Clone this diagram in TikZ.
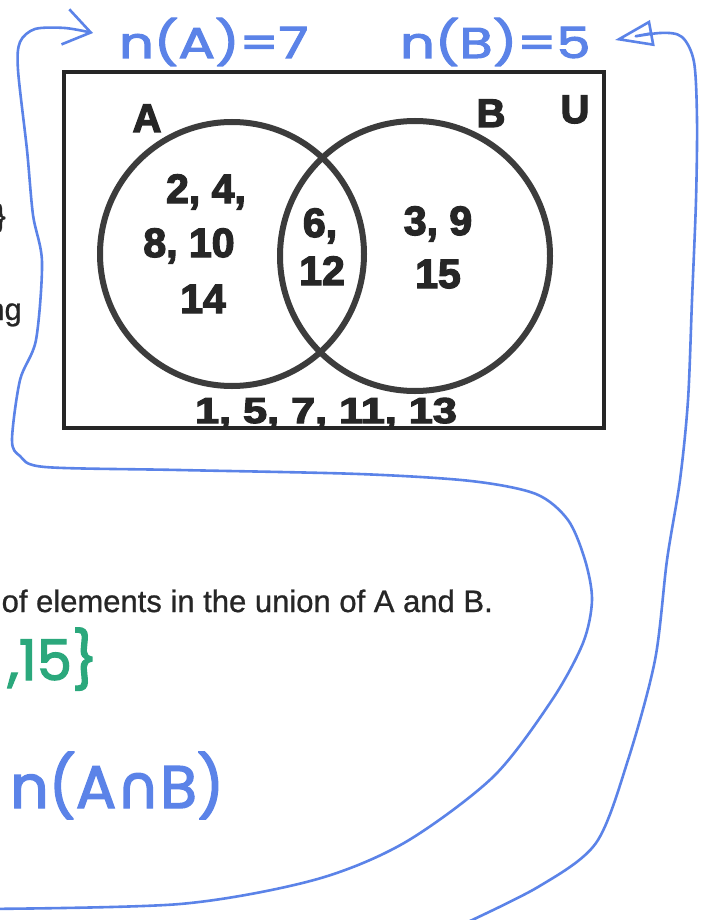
\documentclass[tikz,border=0pt]{standalone}
\usepackage{fontspec}
\setmainfont{Liberation Sans}
\newfontfamily\heavyfont{Liberation Sans}[UprightFont={* Bold}, FakeBold=3.2]
\newfontfamily\printfont{Liberation Sans}[FakeBold=0.8]
\newfontfamily\handfont{Poppins}[FakeBold=2.4]
\newfontfamily\symfont{DejaVu Sans}[FakeBold=2.4]
\usetikzlibrary{arrows.meta, positioning}
\definecolor{ink}{HTML}{262626}
\definecolor{pen}{HTML}{5B83E8}
\definecolor{marker}{HTML}{2BA87C}
\tikzstyle{venn} = [circle, draw=ink!90, line width=6pt, inner sep=0pt]
\tikzstyle{num} = [font=\heavyfont\fontsize{41}{41}\selectfont, text=ink, anchor=base, inner sep=0pt]
\tikzstyle{setname} = [font=\heavyfont\fontsize{40}{40}\selectfont, text=ink, anchor=base, inner sep=0pt]
\tikzstyle{sheet} = [font=\printfont\fontsize{31}{31}\selectfont, text=ink, inner sep=0pt]
\tikzstyle{hand} = [font=\handfont\fontsize{43}{43}\selectfont, text=pen, inner sep=0pt]
\tikzstyle{pencurve} = [draw=pen, line width=2.6pt, line cap=round, line join=round]

\begin{document}
\begin{tikzpicture}[x=1pt, y=-1pt]
\useasboundingbox (0,0) rectangle (703,920);
\clip (0,0) rectangle (703,920);
\fill[white] (0,0) rectangle (703,920);

% Venn diagram
\node (univ) [draw=ink, line width=4pt, minimum width=540pt, minimum height=356pt, inner sep=0pt] at (334,250) {};
\node (setA) [venn, minimum size=264pt] at (232,254) {};
\node (setB) [venn, minimum size=270pt] at (415,256) {};
\node (labA) [setname] at (147,132) {A};
\node (labB) [setname] at (491,127) {B};
\node (labU) [setname] at (575,123) {U};

% Elements
\node (onlyA1) [num] at (206,203) {2, 4,};
\node (onlyA2) [num] at (189,257) {8, 10};
\node (onlyA3) [num] at (203,313) {14};
\node (both1) [num] at (320,237) {6,};
\node (both2) [num] at (322,285) {12};
\node (onlyB1) [num] at (438,235) {3, 9};
\node (onlyB2) [num] at (438,288) {15};
\node (outside) [num, font=\heavyfont\fontsize{36}{36}\selectfont] at (326,423) {\scalebox{1.2}[1]{1, 5, 7, 11, 13}};

% Worksheet text
\node (brace) [sheet, anchor=east] at (6,218) {\}};
\node (ing) [sheet, anchor=base east] at (22,320) {ng};
\node (task) [sheet, anchor=base east] at (493,612) {of elements in the union of A and B.};

% Handwriting
\node (nA) [hand, anchor=base west] at (119,58) {\scalebox{1.26}[1]{n(A)=7}};
\node (nB) [hand, anchor=base west] at (400,58) {\scalebox{1.26}[1]{n(B)=5}};
\node (setlist) [hand, text=marker, font=\handfont\fontsize{56}{56}\selectfont, anchor=base east] at (98,680) {,15\}};
\node (nAB) [hand, font=\handfont\fontsize{60}{60}\selectfont, anchor=base west] at (10,808) {n(A{\symfont ∩}B)};

% Arrows
\coordinate (inStart) at (-20,909);
\coordinate (tipA) at (93,33);
\coordinate (outStart) at (455,928);
\coordinate (tipB) at (615,40);
\draw [pencurve, -{Straight Barb[length=26pt, width=36pt]}] plot[smooth] coordinates {(inStart) (180,904) (314,880) (404,843) (493,777) (552,700) (583,643) (592,600) (585,560) (568,520) (536,494) (471,481) (359,474) (179,470) (45,467) (20,456) (12,440) (20,380) (36,340) (42,262) (33,215) (27,150) (18,70) (20,42) (35,29) (65,28) (tipA)};
\draw [pencurve, -{Triangle[open, length=38pt, width=26pt]}] plot[smooth] coordinates {(outStart) (538,887) (596,843) (628,760) (655,660) (667,560) (680,480) (688,400) (692,300) (696,200) (697,120) (694,62) (682,37) (660,33) (tipB)};

\end{tikzpicture}
\end{document}
